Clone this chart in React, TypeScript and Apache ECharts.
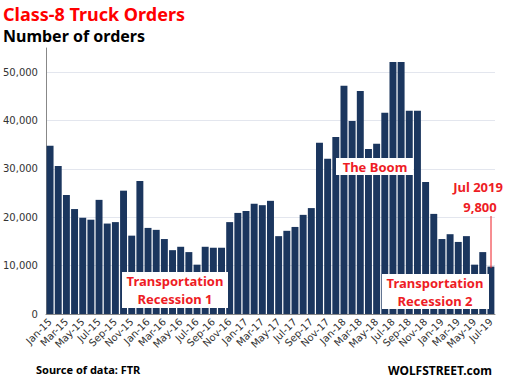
import React, { useEffect, useRef } from "react";
import * as echarts from "echarts";

const months: string[] = [];
const monthNames = ["Jan", "Feb", "Mar", "Apr", "May", "Jun", "Jul", "Aug", "Sep", "Oct", "Nov", "Dec"];
const years = ["15", "16", "17", "18", "19"];
for (const y of years) for (const m of monthNames) months.push(`${m}-${y}`);
const categories = months.slice(0, 55);

const orders = [
  34800, 30600, 24600, 21700, 19900, 19500, 23600, 18700, 19000, 25500, 16200, 27500,
  17800, 17400, 15500, 13200, 13900, 12800, 10200, 13900, 13700, 13700, 19000, 20900,
  21300, 22800, 22500, 23400, 16100, 17200, 18000, 20500, 21900, 35400, 32100, 36600,
  47200, 39900, 46100, 34100, 35200, 41600, 52100, 52100, 42000, 42000, 27300, 20700,
  15500, 16500, 14900, 16100, 10200, 12800, 9800,
];

const yTicks = [0, 10000, 20000, 30000, 40000, 50000];

export default function App() {
  const ref = useRef<HTMLDivElement>(null);
  useEffect(() => {
    if (!ref.current) return;
    const chart = echarts.init(ref.current, null, { renderer: "svg" });
    const red = "#ee1c25";
    const annFont = "Noto Sans";
    chart.setOption({
      animation: false,
      grid: { left: 44, right: 11, top: 48, bottom: 70 },
      xAxis: {
        type: "category",
        data: categories,
        axisLine: { lineStyle: { color: "#888", width: 1 } },
        axisTick: { interval: 1, length: 5, lineStyle: { color: "#888" } },
        axisLabel: {
          interval: 1,
          rotate: 45,
          fontSize: 10,
          fontFamily: "DejaVu Sans",
          color: "#333",
          margin: 6,
        },
      },
      yAxis: {
        type: "value",
        min: 0,
        max: 55000,
        interval: 10000,
        axisLine: { show: true, lineStyle: { color: "#888" } },
        axisTick: { show: false },
        axisLabel: {
          fontSize: 10,
          fontFamily: "DejaVu Sans",
          color: "#333",
          margin: 8,
          formatter: (v: number) => (yTicks.includes(v) ? v.toLocaleString("en-US") : ""),
        },
        splitLine: {
          show: true,
          lineStyle: { color: ["#e3e6ee", "#e3e6ee", "#e3e6ee", "#e3e6ee", "#e3e6ee", "#e3e6ee", "rgba(0,0,0,0)"] },
        },
      },
      series: [
        {
          type: "bar",
          data: orders,
          barCategoryGap: "15%",
          itemStyle: { color: "#1b365e" },
        },
      ],
      graphic: [
        {
          type: "text",
          left: 3,
          top: 5,
          z: 100,
          style: { text: "Class-8 Truck Orders", font: `bold 18px ${annFont}`, fill: "#ff0000" },
        },
        {
          type: "text",
          left: 3,
          top: 28,
          z: 100,
          style: { text: "Number of orders", font: `bold 16px ${annFont}`, fill: "#000" },
        },
        {
          type: "text",
          left: 36,
          top: 364,
          z: 100,
          style: { text: "Source of data: FTR", font: `bold 11px ${annFont}`, fill: "#000" },
        },
        {
          type: "text",
          right: 14,
          top: 364,
          z: 100,
          style: { text: "WOLFSTREET.com", font: `bold 12px ${annFont}`, fill: "#000" },
        },
        { type: "rect", z: 100, shape: { x: 122, y: 272, width: 106, height: 36 }, style: { fill: "#fff" } },
        {
          type: "text",
          z: 101,
          x: 175,
          y: 290,
          style: {
            text: "Transportation\nRecession 1",
            font: `bold 13px ${annFont}`,
            fill: red,
            align: "center",
            verticalAlign: "middle",
            lineHeight: 18,
          },
        },
        { type: "rect", z: 100, shape: { x: 382, y: 274, width: 107, height: 35 }, style: { fill: "#fff" } },
        {
          type: "text",
          z: 101,
          x: 435,
          y: 292,
          style: {
            text: "Transportation\nRecession 2",
            font: `bold 13px ${annFont}`,
            fill: red,
            align: "center",
            verticalAlign: "middle",
            lineHeight: 18,
          },
        },
        { type: "rect", z: 100, shape: { x: 336, y: 158, width: 77, height: 17 }, style: { fill: "#fff" } },
        {
          type: "text",
          z: 101,
          x: 375,
          y: 167,
          style: { text: "The Boom", font: `bold 13px ${annFont}`, fill: red, align: "center", verticalAlign: "middle" },
        },
        {
          type: "text",
          z: 101,
          x: 478,
          y: 187,
          style: { text: "Jul 2019", font: `bold 13px ${annFont}`, fill: red, align: "center", verticalAlign: "middle" },
        },
        {
          type: "text",
          z: 101,
          x: 480,
          y: 207,
          style: { text: "9,800", font: `bold 13px ${annFont}`, fill: red, align: "center", verticalAlign: "middle" },
        },
        {
          type: "line",
          z: 101,
          shape: { x1: 491, y1: 216, x2: 491, y2: 268 },
          style: { stroke: red, lineWidth: 1 },
        },
      ],
    });
    return () => chart.dispose();
  }, []);
  return (
    <div
      ref={ref}
      style={{ position: "fixed", left: 0, top: 0, width: 506, height: 384, background: "#fff" }}
    />
  );
}
